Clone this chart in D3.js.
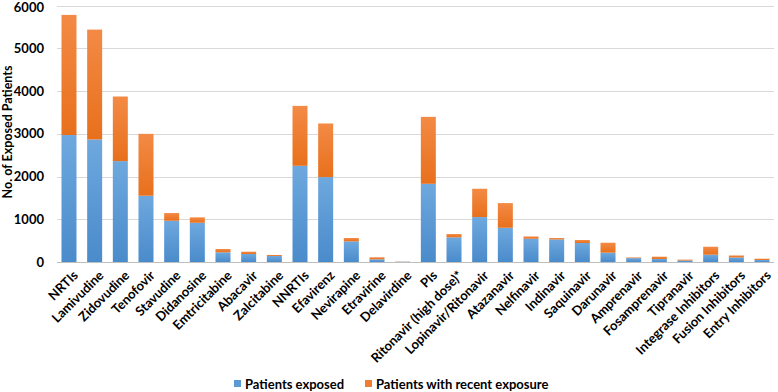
<!DOCTYPE html>
<html>
<head>
<meta charset="utf-8">
<script src="https://cdn.jsdelivr.net/npm/d3@7/dist/d3.min.js"></script>
<style>
  html, body { margin: 0; padding: 0; background: #fff; }
  svg { display: block; }
  text { font-family: Lato, "Open Sans", sans-serif; }
</style>
</head>
<body>
<svg id="chart" width="778" height="392"></svg>
<script>
const categories = ["NRTIs","Lamivudine","Zidovudine","Tenofovir","Stavudine","Didanosine","Emtricitabine","Abacavir","Zalcitabine","NNRTIs","Efavirenz","Nevirapine","Etravirine","Delavirdine","PIs","Ritonavir (high dose)*","Lopinavir/Ritonavir","Atazanavir","Nelfinavir","Indinavir","Saquinavir","Darunavir","Amprenavir","Fosamprenavir","Tipranavir","Integrase Inhibitors","Fusion Inhibitors","Entry Inhibitors"];
const exposed = [2970,2866,2360,1550,965,918,227,187,140,2250,1986,483,63,8,1829,577,1051,801,544,528,444,218,91,70,35,171,107,47];
const recent  = [2810,2570,1511,1448,180,126,77,54,24,1402,1254,78,47,4,1566,77,662,577,53,32,70,233,16,54,21,186,46,30];
const yTicks = [0,1000,2000,3000,4000,5000,6000];
const seriesNames = ["Patients exposed","Patients with recent exposure"];
const seriesColors = ["#5B9BD5","#ED7D31"];

const svg = d3.select("#chart");
const x = d3.scaleBand().domain(categories).range([57, 774]).paddingInner(0.416).paddingOuter(0.175);
const y = d3.scaleLinear().domain([0, 6000]).range([262, 5.5]);

// gradients
const defs = svg.append("defs");
const gb = defs.append("linearGradient").attr("id","gBlue").attr("x1",0).attr("y1",0).attr("x2",0).attr("y2",1);
gb.append("stop").attr("offset","0%").attr("stop-color","#6EA8DE");
gb.append("stop").attr("offset","100%").attr("stop-color","#4A8BCB");
const go = defs.append("linearGradient").attr("id","gOrange").attr("x1",0).attr("y1",0).attr("x2",0).attr("y2",1);
go.append("stop").attr("offset","0%").attr("stop-color","#F38A45");
go.append("stop").attr("offset","100%").attr("stop-color","#E8701C");

// grid
svg.append("g").selectAll("line").data(yTicks).join("line")
  .attr("x1", 57).attr("x2", 774)
  .attr("y1", d => Math.round(y(d)) + 0.5).attr("y2", d => Math.round(y(d)) + 0.5)
  .attr("stroke", "#D9D9D9").attr("stroke-width", 1);

// y axis labels
const yAxis = d3.axisLeft(y).tickValues(yTicks).tickFormat(d3.format("d")).tickSize(0).tickPadding(13);
const yg = svg.append("g").attr("transform", `translate(57,0)`).call(yAxis);
yg.select(".domain").remove();
yg.selectAll("text").attr("font-size", 13).attr("font-weight", "bold").attr("fill", "#000")
  .style("font-family", 'Lato, sans-serif')
  .attr("dy", d => d === 6000 ? "0.45em" : "0.32em");

// bars
const data = categories.map((c, i) => ({c, e: exposed[i], r: recent[i]}));
const bw = x.bandwidth();
svg.append("g").selectAll("rect.e").data(data).join("rect")
  .attr("x", d => x(d.c)).attr("width", bw)
  .attr("y", d => y(d.e)).attr("height", d => y(0) - y(d.e))
  .attr("fill", "url(#gBlue)");
svg.append("g").selectAll("rect.r").data(data).join("rect")
  .attr("x", d => x(d.c)).attr("width", bw)
  .attr("y", d => y(d.e + d.r)).attr("height", d => y(d.e) - y(d.e + d.r))
  .attr("fill", "url(#gOrange)");

// x axis baseline
svg.append("line").attr("x1", 57).attr("x2", 774)
  .attr("y1", Math.round(y(0)) + 0.5).attr("y2", Math.round(y(0)) + 0.5)
  .attr("stroke", "#BFBFBF");

// x labels
const xAxis = d3.axisBottom(x).tickSize(0).tickPadding(0);
const xg = svg.append("g").attr("transform", `translate(0,${y(0)})`).call(xAxis);
xg.select(".domain").remove();
xg.selectAll("text")
  .attr("font-size", 13).attr("font-weight", "bold").attr("fill", "#000")
  .style("font-family", 'Lato, sans-serif')
  .attr("text-anchor", "end")
  .attr("dy", "0.35em")
  .attr("transform", `translate(${bw/2 - 1},11) rotate(-45)`);

// y title
svg.append("text")
  .attr("transform", `translate(12,132) rotate(-90)`)
  .attr("text-anchor", "middle").attr("font-size", 12.5).attr("font-weight", "bold")
  .text("No. of Exposed Patients");

// legend
const lg = svg.append("g");
const legX = [234, 365];
seriesNames.forEach((n, i) => {
  lg.append("rect").attr("x", legX[i]).attr("y", 380).attr("width", 7).attr("height", 7).attr("fill", seriesColors[i]);
  lg.append("text").attr("x", legX[i] + 11).attr("y", 388.5).attr("font-size", 13).attr("font-weight", "bold").text(n);
});
</script>
</body>
</html>
